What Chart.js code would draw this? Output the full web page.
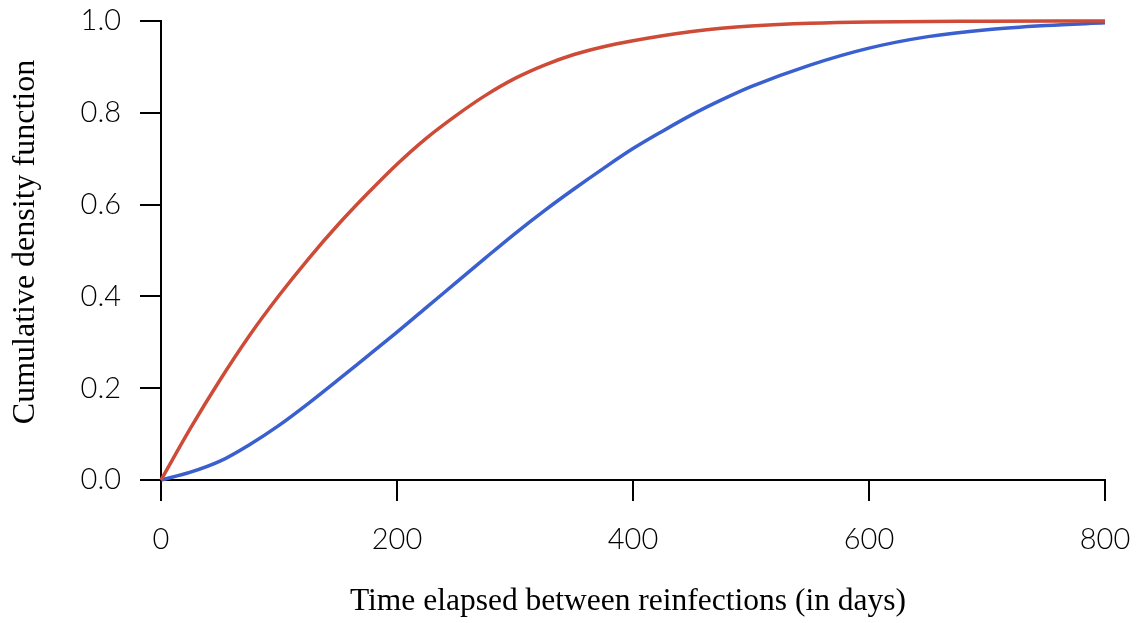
<!DOCTYPE html>
<html>
<head>
<meta charset="utf-8">
<script src="https://cdn.jsdelivr.net/npm/chart.js@4/dist/chart.umd.min.js"></script>
<style>
  html, body { margin: 0; padding: 0; background: #ffffff; }
  #wrap { width: 1137px; height: 623px; position: relative; }
</style>
</head>
<body>
<div id="wrap"><canvas id="cdf"></canvas></div>
<script>
// Days between infections at which each curve is sampled, and the cumulative share reached
const daysRed  = [0, 25, 50, 75, 100, 125, 150, 175, 200, 225, 250, 275, 300, 325, 350, 375, 400, 425, 450, 475, 500, 550, 600, 700, 800];
const cdfRed   = [0, 0.113, 0.218, 0.315, 0.402, 0.482, 0.556, 0.624, 0.688, 0.745, 0.794, 0.838, 0.875, 0.904, 0.927, 0.944, 0.957, 0.968, 0.977, 0.984, 0.989, 0.995, 0.998, 0.9995, 1.0];

const daysBlue = [0, 25, 50, 75, 100, 125, 150, 175, 200, 225, 250, 275, 300, 325, 350, 375, 400, 425, 450, 475, 500, 550, 600, 650, 700, 750, 800];
const cdfBlue  = [0, 0.017, 0.041, 0.077, 0.119, 0.167, 0.218, 0.270, 0.322, 0.376, 0.430, 0.484, 0.537, 0.587, 0.634, 0.679, 0.722, 0.760, 0.796, 0.828, 0.857, 0.904, 0.941, 0.966, 0.981, 0.990, 0.996];

const xTickValues = [0, 200, 400, 600, 800];
const yTickValues = [0, 0.2, 0.4, 0.6, 0.8, 1.0];

const xTitle = 'Time elapsed between reinfections (in days)';
const yTitle = 'Cumulative density function';

const toPoints = (xs, ys) => xs.map((x, i) => ({ x: x, y: ys[i] }));

const tickFont  = { family: 'Lato', size: 29, weight: 300 };
const serifFamily = '"Liberation Serif", "DejaVu Serif", serif';

const axisCommon = {
  border: { display: true, color: '#000000', width: 2 },
  grid: { display: true, drawOnChartArea: false, drawTicks: true, tickLength: 21, color: '#000000', lineWidth: 2 }
};

// Axis titles: horizontal one under the x tick labels, rotated one beside the y axis
const axisTitlesPlugin = {
  id: 'axisTitles',
  afterDraw(chart) {
    const ctx = chart.ctx;
    ctx.save();
    ctx.fillStyle = '#000000';
    ctx.textAlign = 'center';
    ctx.textBaseline = 'middle';

    ctx.font = '31.5px ' + serifFamily;
    ctx.fillText(xTitle, 628, 602);

    ctx.translate(26, 242);
    ctx.rotate(-Math.PI / 2);
    ctx.font = '32px ' + serifFamily;
    ctx.fillText(yTitle, 0, 0);
    ctx.restore();
  }
};

new Chart(document.getElementById('cdf'), {
  type: 'line',
  data: {
    datasets: [
      {
        data: toPoints(daysRed, cdfRed),
        borderColor: '#CD4B37',
        borderWidth: 3.5,
        pointRadius: 0,
        cubicInterpolationMode: 'monotone',
        fill: false,
        clip: 6
      },
      {
        data: toPoints(daysBlue, cdfBlue),
        borderColor: '#3A5FCF',
        borderWidth: 3.5,
        pointRadius: 0,
        cubicInterpolationMode: 'monotone',
        fill: false,
        clip: 6
      }
    ]
  },
  plugins: [axisTitlesPlugin],
  options: {
    responsive: true,
    maintainAspectRatio: false,
    animation: false,
    layout: { padding: { left: 0, right: 32, top: 21, bottom: 0 } },
    plugins: { legend: { display: false }, tooltip: { enabled: false } },
    scales: {
      x: {
        type: 'linear',
        min: 0,
        max: 800,
        ...axisCommon,
        afterBuildTicks: (s) => { s.ticks = xTickValues.map(v => ({ value: v })); },
        afterFit: (s) => { s.height = 143; s.paddingLeft = 0; s.paddingRight = 0; },
        ticks: { color: '#000000', font: tickFont, padding: 21, maxRotation: 0 },
        title: { display: false }
      },
      y: {
        type: 'linear',
        min: 0,
        max: 1,
        ...axisCommon,
        afterBuildTicks: (s) => { s.ticks = yTickValues.map(v => ({ value: v })); },
        afterFit: (s) => { s.width = 161; s.paddingTop = 0; s.paddingBottom = 0; },
        ticks: { color: '#000000', font: tickFont, padding: 19, callback: (v) => Number(v).toFixed(1) },
        title: { display: false }
      }
    }
  }
});
</script>
</body>
</html>
